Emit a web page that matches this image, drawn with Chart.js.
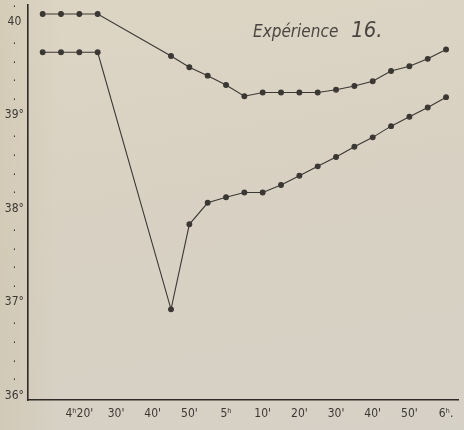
<!DOCTYPE html>
<html>
<head>
<meta charset="utf-8">
<script src="https://cdn.jsdelivr.net/npm/chart.js@4.4.1/dist/chart.umd.min.js"></script>
<style>
  html, body { margin: 0; padding: 0; }
  body {
    width: 464px; height: 430px; overflow: hidden;
    background:
      linear-gradient(90deg, rgba(200, 188, 160, 0.35) 0px, rgba(200, 188, 160, 0.2) 28px, rgba(200, 188, 160, 0) 60px),
      linear-gradient(170deg, #ddd5c4 0%, #d8d1c3 50%, #d6d1c6 100%);
  }
  #wrap { position: relative; width: 464px; height: 430px; }
</style>
</head>
<body>
<div id="wrap"><canvas id="chart" width="464" height="430"></canvas></div>
<script>
// minutes after 4h
const minutes = [10, 15, 20, 25, 45, 50, 55, 60, 65, 70, 75, 80, 85, 90, 95, 100, 105, 110, 115, 120];
const upperTemp = [40.13, 40.13, 40.13, 40.13, 39.68, 39.56, 39.47, 39.37, 39.25, 39.29, 39.29, 39.29, 39.29, 39.32, 39.36, 39.41, 39.52, 39.57, 39.65, 39.75];
const lowerTemp = [39.72, 39.72, 39.72, 39.72, 36.97, 37.88, 38.11, 38.17, 38.22, 38.22, 38.30, 38.40, 38.50, 38.60, 38.71, 38.81, 38.93, 39.03, 39.13, 39.24];
const xTickValues = [20, 30, 40, 50, 60, 70, 80, 90, 100, 110, 120];
const xTickLabels = ["4ʰ20'", "30'", "40'", "50'", "5ʰ", "10'", "20'", "30'", "40'", "50'", "6ʰ."];
const yTickLabels = { 36: "36°", 37: "37°", 38: "38°", 39: "39°", 40: "40" };

const ink = '#3b3733';
const font = "'DejaVu Sans Condensed', 'Liberation Sans Narrow', sans-serif";

const toPoints = vals => minutes.map((m, i) => ({ x: m, y: vals[i] }));

const titlePlugin = {
  id: 'experienceTitle',
  afterDraw(chart) {
    const ctx = chart.ctx;
    ctx.save();
    ctx.fillStyle = '#4a4540';
    ctx.textBaseline = 'alphabetic';
    ctx.font = 'italic 17px ' + font;
    ctx.fillText('Expérience', 253, 37);
    const w = ctx.measureText('Expérience ').width;
    ctx.font = 'italic 22px ' + font;
    ctx.fillText('16.', 253 + w + 8, 37);
    ctx.restore();
  }
};

new Chart(document.getElementById('chart').getContext('2d'), {
  type: 'line',
  data: {
    datasets: [
      {
        label: 'upper',
        data: toPoints(upperTemp),
        borderColor: ink,
        backgroundColor: ink,
        borderWidth: 1.1,
        pointRadius: 2.4,
        tension: 0
      },
      {
        label: 'lower',
        data: toPoints(lowerTemp),
        borderColor: ink,
        backgroundColor: ink,
        borderWidth: 1.1,
        pointRadius: 2.4,
        tension: 0
      }
    ]
  },
  options: {
    responsive: false,
    animation: false,
    layout: { padding: 0 },
    plugins: {
      legend: { display: false },
      tooltip: { enabled: false }
    },
    scales: {
      x: {
        type: 'linear',
        min: 6,
        max: 123.5,
        afterBuildTicks: s => { s.ticks = xTickValues.map(v => ({ value: v })); },
        afterFit: s => { s.height = 30; s.paddingLeft = 0; s.paddingRight = 0; },
        grid: { display: false, drawTicks: false },
        border: { color: '#2e2a27', width: 1.6 },
        ticks: {
          padding: 7,
          color: '#3c3834',
          font: { family: font, size: 12 },
          maxRotation: 0,
          autoSkip: false,
          callback: (v) => xTickLabels[xTickValues.indexOf(v)]
        }
      },
      y: {
        min: 36,
        max: 40.225,
        afterBuildTicks: s => {
          const t = [];
          for (let i = 0; i <= 21; i++) t.push({ value: Math.round((36 + i * 0.2) * 10) / 10 });
          s.ticks = t;
        },
        afterFit: s => { s.width = 28; s.paddingTop = 0; s.paddingBottom = 0; },
        grid: { display: false, drawTicks: false },
        border: { color: '#2e2a27', width: 1.6 },
        ticks: {
          padding: 4,
          crossAlign: 'center',
          color: '#3c3834',
          font: { family: font, size: 12, lineHeight: 0.75 },
          autoSkip: false,
          callback: (v) => {
            if (yTickLabels[v] !== undefined) return [yTickLabels[v], ''];
            return '·';
          }
        }
      }
    }
  },
  plugins: [titlePlugin]
});
</script>
</body>
</html>
